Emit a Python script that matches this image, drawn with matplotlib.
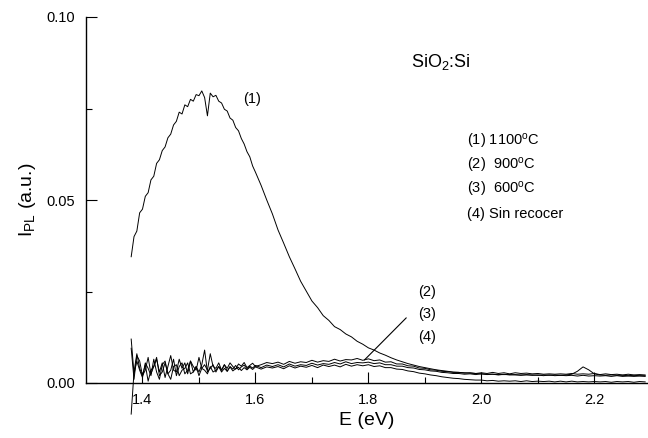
import numpy as np
import matplotlib
matplotlib.use("Agg")
import matplotlib.pyplot as plt

# =====================================================================
# DATA (intensities in units of 1e-3 a.u.)
# =====================================================================
energy_low = [1.380, 1.385, 1.390, 1.395, 1.400, 1.405, 1.410, 1.415, 1.420,
              1.425, 1.430, 1.435, 1.440, 1.445, 1.450, 1.455, 1.460, 1.465,
              1.470, 1.475, 1.480, 1.485, 1.490, 1.495, 1.500, 1.505, 1.510,
              1.515, 1.520, 1.525, 1.530, 1.535, 1.540, 1.545, 1.550, 1.555,
              1.560, 1.565, 1.570, 1.575, 1.580, 1.585, 1.590, 1.595, 1.600]
energy_high = [1.61, 1.62, 1.63, 1.64, 1.65, 1.66, 1.67, 1.68, 1.69, 1.70,
               1.71, 1.72, 1.73, 1.74, 1.75, 1.76, 1.77, 1.78, 1.79, 1.80,
               1.81, 1.82, 1.83, 1.84, 1.85, 1.86, 1.87, 1.88, 1.89, 1.90,
               1.91, 1.92, 1.93, 1.94, 1.95, 1.96, 1.97, 1.98, 1.99, 2.00,
               2.01, 2.02, 2.03, 2.04, 2.05, 2.06, 2.07, 2.08, 2.09, 2.10,
               2.11, 2.12, 2.13, 2.14, 2.15, 2.16, 2.17, 2.18, 2.19, 2.20,
               2.21, 2.22, 2.23, 2.24, 2.25, 2.26, 2.27, 2.28, 2.29]

# (1) 1100 C
pl_1100 = [34.5, 40.0, 41.5, 46.5, 47.5, 51.0, 52.0, 55.5, 56.5, 60.0,
           61.0, 63.5, 64.5, 67.0, 68.0, 70.5, 71.5, 74.0, 73.5, 76.0,
           75.5, 77.5, 77.0, 78.8, 78.5, 79.8, 78.0, 73.0, 79.2, 78.2,
           78.6, 77.0, 76.5, 74.8, 74.3, 72.4, 71.8, 69.8, 68.9, 66.8,
           65.3, 63.2, 61.8, 59.3, 57.6,
           54.0, 50.0, 46.2, 41.8, 38.2, 34.5, 31.2, 27.8, 25.1, 22.4,
           20.6, 18.4, 17.1, 15.4, 14.6, 13.4, 12.6, 11.4, 10.6, 9.6,
           9.0, 8.2, 7.6, 6.9, 6.3, 5.8, 5.3, 4.9, 4.5, 4.2,
           3.9, 3.6, 3.4, 3.2, 3.0, 2.9, 2.8, 2.7, 2.6, 2.5,
           2.4, 2.4, 2.3, 2.3, 2.3, 2.2, 2.2, 2.2, 2.2, 2.1,
           2.2, 2.1, 2.2, 2.1, 2.2, 2.4, 3.2, 4.4, 3.6, 2.5,
           2.2, 2.1, 2.2, 2.1, 2.1, 2.0, 2.1, 2.0, 2.0]

# (2) 900 C
pl_900 = [9.5, 1.0, 7.5, 6.0, 2.0, 3.5, 7.0, 2.5, 4.5, 6.5,
          3.0, 5.5, 1.5, 4.5, 7.5, 3.5, 3.0, 6.5, 4.0, 5.5,
          2.5, 6.0, 4.5, 3.5, 7.0, 4.0, 5.0, 3.5, 8.0, 4.5,
          4.0, 5.5, 3.5, 5.0, 4.0, 5.5, 4.5, 3.8, 5.2, 4.6,
          5.6, 4.2, 4.8, 5.4, 4.5,
          5.0, 5.6, 5.3, 5.7, 5.1, 5.9, 5.4, 5.8, 5.6, 6.2,
          5.7, 6.1, 5.9, 6.5, 6.0, 6.4, 6.3, 6.7, 6.2, 6.6,
          6.1, 6.3, 5.7, 5.8, 5.2, 5.2, 4.7, 4.6, 4.1, 4.0,
          3.6, 3.5, 3.2, 3.1, 2.9, 2.9, 2.7, 2.8, 2.6, 2.8,
          2.6, 2.9, 2.6, 2.8, 2.5, 2.8, 2.6, 2.7, 2.5, 2.6,
          2.4, 2.5, 2.4, 2.5, 2.4, 2.6, 2.4, 2.5, 2.4, 2.6,
          2.3, 2.5, 2.3, 2.4, 2.2, 2.4, 2.2, 2.3, 2.2]

# (3) 600 C
pl_600 = [12.0, 2.5, 6.0, 3.5, 1.5, 5.5, 4.0, 2.0, 6.5, 3.0,
          1.0, 5.0, 6.0, 2.5, 3.5, 6.5, 2.0, 4.5, 5.5, 2.5,
          3.5, 6.0, 3.0, 4.5, 3.0, 5.0, 9.0, 3.0, 4.0, 5.0,
          3.0, 4.5, 3.5, 5.0, 3.2, 4.5, 3.8, 4.8, 3.6, 4.4,
          4.9, 3.9, 4.6, 4.1, 4.8,
          4.2, 4.9, 4.5, 5.0, 4.4, 5.2, 4.6, 5.0, 4.8, 5.4,
          4.9, 5.3, 5.1, 5.6, 5.2, 5.8, 5.3, 5.6, 5.5, 5.7,
          5.3, 5.5, 5.0, 5.0, 4.6, 4.6, 4.2, 4.1, 3.7, 3.6,
          3.3, 3.2, 2.9, 2.8, 2.6, 2.6, 2.4, 2.5, 2.3, 2.5,
          2.3, 2.4, 2.2, 2.4, 2.2, 2.3, 2.1, 2.3, 2.1, 2.2,
          2.0, 2.2, 2.0, 2.1, 2.0, 2.1, 1.9, 2.1, 1.9, 2.0,
          1.9, 2.0, 1.8, 2.0, 1.8, 1.9, 1.8, 1.9, 1.8]

# (4) sin recocer
pl_asdep = [-8.5, 3.0, 8.0, 4.0, 2.0, 5.0, 0.5, 3.5, 4.5, 7.0,
            2.0, 3.0, 5.5, 2.5, 1.0, 4.5, 5.0, 2.0, 3.5, 4.0,
            5.5, 2.5, 3.0, 4.5, 2.0, 4.0, 3.5, 2.5, 4.5, 3.0,
            3.5, 4.5, 3.0, 4.0, 3.2, 4.4, 3.3, 3.9, 4.3, 3.4,
            4.2, 3.6, 4.3, 3.7, 4.4,
            3.8, 4.4, 4.1, 4.5, 3.9, 4.7, 4.1, 4.6, 4.3, 4.8,
            4.2, 4.9, 4.5, 4.9, 4.4, 5.1, 4.6, 5.0, 4.7, 5.0,
            4.5, 4.7, 4.2, 4.2, 3.8, 3.7, 3.3, 3.1, 2.7, 2.5,
            2.2, 2.0, 1.7, 1.5, 1.3, 1.2, 1.0, 0.9, 0.8, 0.8,
            0.6, 0.7, 0.5, 0.6, 0.5, 0.6, 0.4, 0.6, 0.4, 0.5,
            0.4, 0.5, 0.3, 0.5, 0.3, 0.5, 0.3, 0.4, 0.3, 0.4,
            0.3, 0.4, 0.2, 0.4, 0.3, 0.4, 0.2, 0.4, 0.3]

legend_lines = ["(1) 1100$^{\\rm o}$C", "(2)  900$^{\\rm o}$C",
                "(3)  600$^{\\rm o}$C", "(4) Sin recocer"]

# =====================================================================
# FIGURE
# =====================================================================
plt.rcParams['font.family'] = ['Liberation Sans', 'DejaVu Sans']
plt.rcParams['mathtext.fontset'] = 'custom'
plt.rcParams['mathtext.rm'] = 'Liberation Sans'
plt.rcParams['mathtext.it'] = 'Liberation Sans:italic'

energy = np.array(energy_low + energy_high)

fig = plt.figure(figsize=(6.48, 4.38), dpi=100)
ax = fig.add_axes([86 / 648, 55 / 438, 562 / 648, 366 / 438])

for series in (pl_asdep, pl_600, pl_900, pl_1100):
    ax.plot(energy, np.array(series) / 1000.0, color='black', lw=0.7,
            clip_on=False)

ax.set_xlim(1.3, 2.295)
ax.set_ylim(0.0, 0.10)
ax.set_xticks([1.4, 1.6, 1.8, 2.0, 2.2])
ax.set_xticks([1.5, 1.7, 1.9, 2.1], minor=True)
ax.set_yticks([0.0, 0.05, 0.10])
ax.set_yticks([0.025, 0.075], minor=True)
ax.set_yticklabels(['0.00', '0.05', '0.10'])
ax.tick_params(direction='in', which='major', length=8, width=0.8,
               labelsize=10.5, pad=7)
ax.tick_params(direction='in', which='minor', length=4, width=0.8)
ax.tick_params(axis='y', pad=8)

for side in ('top', 'right'):
    ax.spines[side].set_visible(False)
for side in ('left', 'bottom'):
    ax.spines[side].set_linewidth(1.0)

ax.set_xlabel('E (eV)', fontsize=14, labelpad=4)
ax.set_ylabel('I$_{\\rm PL}$ (a.u.)', fontsize=14, labelpad=6)

ax.text(1.876, 0.0877, 'SiO$_2$:Si', fontsize=13, va='center')
for k, txt in enumerate(legend_lines):
    ax.text(1.975, 0.0661 - k * 0.0066, txt, fontsize=10.5, va='center')

ax.text(1.579, 0.0775, '(1)', fontsize=10.5, va='center')
for k, txt in enumerate(['(2)', '(3)', '(4)']):
    ax.text(1.888, 0.0249 - k * 0.0061, txt, fontsize=10.5, va='center')
ax.annotate('', xy=(1.793, 0.0063), xytext=(1.867, 0.0178),
            arrowprops=dict(arrowstyle='-', color='black', lw=0.8,
                            shrinkA=0, shrinkB=0))

fig.savefig('out.png', dpi=100)
